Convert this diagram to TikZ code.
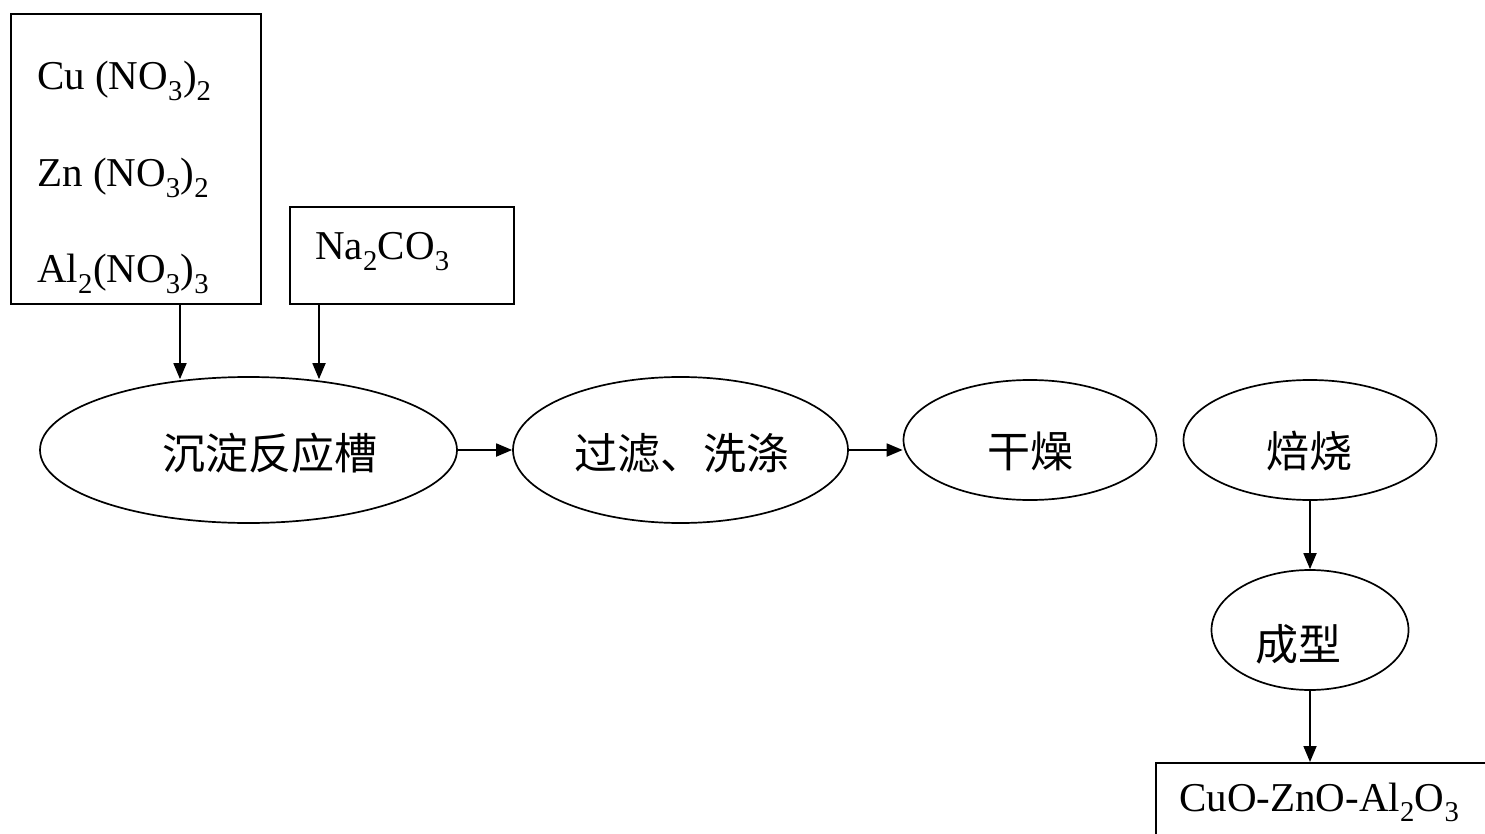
\documentclass[tikz,border=0pt]{standalone}
\usepackage{fontspec}
\setmainfont{Liberation Serif}
\newfontfamily\cjk{Noto Sans CJK SC}
\usetikzlibrary{shapes.geometric,arrows.meta}
\begin{document}
\begin{tikzpicture}[x=1pt,y=-1pt,
  boxst/.style={draw,line width=1.9pt,rectangle,inner sep=0pt},
  ell/.style={draw,line width=1.7pt,ellipse,inner sep=0pt},
  chem/.style={font=\fontsize{41}{48}\selectfont,inner sep=0pt},
  zh/.style={font=\cjk\fontsize{43}{50}\selectfont,inner sep=0pt},
  arr/.style={line width=1.8pt,-{Triangle[length=16pt,width=13pt]}}]
\useasboundingbox (0,0) rectangle (1485,834);
\fill[white] (0,0) rectangle (1485,834);
% source boxes
\node[boxst,minimum width=250pt,minimum height=290pt] (src) at (136,159) {};
\node[chem,anchor=base west] (cu) at (37,90) {Cu (NO\textsubscript{3})\textsubscript{2}};
\node[chem,anchor=base west] (zn) at (37,187) {Zn (NO\textsubscript{3})\textsubscript{2}};
\node[chem,anchor=base west] (al) at (37,283) {Al\textsubscript{2}(NO\textsubscript{3})\textsubscript{3}};
\node[boxst,minimum width=224pt,minimum height=97pt] (na) at (402,255.5) {};
\node[chem,anchor=base west] (natext) at (315,260) {Na\textsubscript{2}CO\textsubscript{3}};
% ellipses
\node[ell,minimum width=417pt,minimum height=146pt] (prec) at (248.5,450) {};
\node[zh] (prect) at (270,453) {沉淀反应槽};
\node[ell,minimum width=335pt,minimum height=146pt] (filt) at (680.5,450) {};
\node[zh] (filtt) at (682,453) {过滤、洗涤};
\node[ell,minimum width=253pt,minimum height=120pt] (dry) at (1030,440) {};
\node[zh] (dryt) at (1030,451) {干燥};
\node[ell,minimum width=253pt,minimum height=120pt] (bake) at (1310,440) {};
\node[zh] (baket) at (1309,451) {焙烧};
\node[ell,minimum width=197pt,minimum height=120pt] (form) at (1310,630) {};
\node[zh] (formt) at (1298,644) {成型};
% product box
\node[boxst,anchor=north west,minimum width=345pt,minimum height=90pt] (prod) at (1155,762) {};
\node[chem,anchor=base west] (prodt) at (1179,811) {CuO-ZnO-Al\textsubscript{2}O\textsubscript{3}};
% connectors
\draw[arr] ([xshift=44pt]src.south) -- ([xshift=44pt,yshift=-3pt]src.south |- prec.north);
\draw[arr] ([xshift=-83pt]na.south) -- ([xshift=-83pt,yshift=-3pt]na.south |- prec.north);
\draw[arr] (prec.east) -- (filt.west);
\draw[arr] (filt.east) -- (filt.east -| dry.west);
\draw[arr] (bake.south) -- (form.north);
\draw[arr] (form.south) -- (form.south |- prod.north);
\end{tikzpicture}
\end{document}
